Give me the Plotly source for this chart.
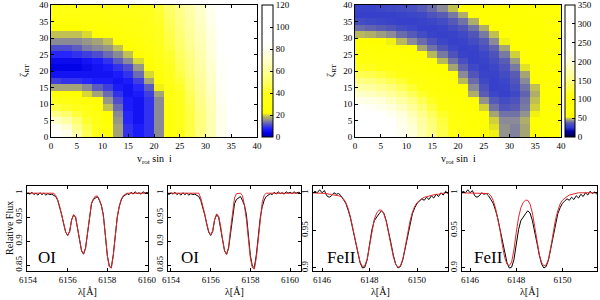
import plotly.graph_objects as go

FONT = "Liberation Serif"

# ---------------- heat-map data ----------------
v_centers = [1, 3, 5, 7, 9, 11, 13, 15, 17, 19, 21, 23, 25, 27, 29, 31, 33, 35, 37, 39]
zeta_centers = [1, 3, 5, 7, 9, 11, 13, 15, 17, 19, 21, 23, 25, 27, 29, 31, 33, 35, 37, 39]
map_ticks = [0, 5, 10, 15, 20, 25, 30, 35, 40]

chi_left = [
    [92, 78, 62, 48, 36, 25, 17, 9, 7, 9, 15, 28, 36, 45, 55, 65, 78, 90, 102, 112],
    [84, 72, 58, 46, 35, 25, 17, 9, 7, 9, 15, 28, 36, 45, 55, 65, 78, 90, 102, 112],
    [70, 62, 52, 42, 33, 24, 16, 8, 6, 9, 15, 28, 36, 45, 55, 65, 78, 90, 102, 112],
    [57, 51, 44, 37, 30, 22, 15, 8, 6, 9, 15, 28, 36, 45, 55, 65, 78, 90, 102, 112],
    [45, 41, 36, 31, 26, 19, 13, 7, 6, 9, 15, 29, 37, 46, 56, 66, 79, 91, 103, 113],
    [35, 32, 29, 26, 22, 16, 11, 7, 6, 9, 15, 30, 38, 47, 57, 67, 80, 92, 104, 114],
    [26, 25, 23, 20, 17, 13, 9, 6, 7, 10, 17, 31, 39, 48, 58, 68, 81, 93, 105, 115],
    [17, 17, 17, 15, 12, 10, 7, 6, 8, 12, 21, 33, 41, 50, 59, 69, 82, 94, 106, 116],
    [10, 9, 9, 8, 7, 7, 6, 7, 10, 17, 25, 35, 43, 51, 60, 70, 83, 95, 107, 117],
    [6, 6, 6, 6, 6, 6, 7, 9, 13, 20, 28, 37, 45, 53, 61, 71, 84, 96, 108, 118],
    [4, 4, 4, 5, 6, 7, 9, 11, 16, 22, 31, 39, 47, 54, 62, 72, 85, 97, 109, 119],
    [5, 5, 5, 6, 7, 9, 12, 15, 20, 25, 33, 41, 48, 55, 63, 73, 86, 98, 110, 120],
    [8, 8, 9, 10, 11, 13, 15, 19, 23, 28, 35, 42, 49, 56, 64, 74, 87, 99, 111, 120],
    [11, 11, 12, 14, 15, 16, 19, 22, 26, 30, 37, 44, 51, 58, 65, 75, 87, 99, 111, 121],
    [15, 15, 15, 16, 17, 19, 22, 25, 28, 32, 38, 45, 52, 59, 66, 75, 88, 100, 112, 121],
    [19, 19, 19, 20, 22, 24, 26, 28, 30, 34, 39, 46, 53, 60, 67, 76, 88, 100, 112, 122],
    [23, 23, 24, 25, 26, 27, 28, 30, 32, 35, 40, 47, 54, 61, 68, 77, 89, 101, 113, 122],
    [27, 27, 27, 28, 28, 29, 30, 31, 33, 36, 41, 48, 55, 62, 69, 78, 90, 102, 114, 123],
    [30, 30, 30, 31, 31, 32, 33, 34, 35, 37, 42, 49, 56, 63, 70, 79, 91, 103, 115, 124],
    [32, 32, 32, 33, 33, 34, 35, 36, 37, 38, 43, 50, 57, 64, 71, 80, 92, 104, 116, 125],
]

chi_right = [
    [335, 307, 278, 251, 224, 199, 175, 152, 131, 111, 93, 77, 63, 52, 44, 42, 46, 53, 64, 70],
    [315, 296, 272, 246, 221, 196, 172, 150, 129, 110, 92, 76, 62, 51, 44, 42, 46, 53, 64, 70],
    [291, 279, 259, 237, 213, 190, 168, 146, 126, 107, 90, 75, 61, 50, 43, 43, 47, 54, 65, 70],
    [265, 256, 240, 222, 201, 179, 158, 138, 119, 101, 84, 69, 56, 46, 40, 40, 44, 52, 64, 68],
    [239, 232, 220, 203, 185, 166, 146, 127, 109, 92, 76, 62, 50, 40, 35, 37, 41, 50, 60, 64],
    [215, 209, 199, 185, 169, 152, 134, 116, 99, 83, 69, 55, 44, 36, 32, 34, 40, 49, 58, 62],
    [190, 186, 177, 165, 151, 136, 120, 104, 88, 73, 60, 47, 37, 30, 28, 31, 38, 47, 55, 59],
    [170, 167, 159, 149, 137, 123, 109, 94, 80, 67, 54, 43, 34, 28, 29, 33, 40, 49, 56, 60],
    [152, 148, 142, 133, 123, 110, 98, 85, 72, 60, 48, 39, 31, 28, 30, 35, 43, 53, 57, 61],
    [134, 131, 125, 118, 108, 98, 87, 75, 64, 53, 43, 35, 29, 29, 32, 37, 46, 54, 58, 62],
    [116, 114, 109, 103, 95, 86, 76, 66, 56, 46, 38, 31, 28, 30, 34, 41, 51, 56, 59, 63],
    [100, 98, 94, 89, 82, 74, 65, 56, 48, 40, 33, 28, 29, 32, 37, 45, 54, 57, 61, 64],
    [85, 84, 80, 75, 70, 63, 55, 48, 41, 34, 29, 28, 30, 34, 41, 50, 55, 59, 62, 66],
    [72, 70, 67, 63, 58, 53, 46, 40, 35, 30, 28, 29, 33, 38, 46, 54, 57, 61, 64, 67],
    [59, 58, 56, 52, 48, 43, 39, 34, 30, 28, 29, 32, 36, 43, 52, 56, 59, 62, 66, 69],
    [48, 47, 45, 43, 39, 36, 32, 29, 28, 29, 31, 35, 41, 49, 55, 58, 61, 64, 67, 71],
    [39, 38, 37, 35, 32, 30, 28, 28, 29, 32, 35, 40, 47, 54, 57, 60, 63, 66, 69, 73],
    [32, 31, 30, 29, 28, 28, 29, 30, 32, 36, 40, 47, 54, 56, 59, 62, 65, 68, 71, 74],
    [28, 28, 28, 28, 29, 30, 31, 34, 37, 41, 47, 54, 56, 59, 61, 64, 67, 70, 73, 76],
    [29, 29, 30, 31, 32, 33, 36, 39, 43, 49, 54, 56, 59, 61, 64, 67, 69, 72, 75, 78],
]

cbar_left_ticks = [0, 20, 40, 60, 80, 100, 120]
cbar_right_ticks = [0, 50, 100, 150, 200, 250, 300, 350]

# ---------------- spectra ----------------
wl_OI = [6153.6, 6153.7, 6153.8, 6153.9, 6154.0, 6154.1, 6154.2, 6154.3, 6154.4, 6154.5,
         6154.6, 6154.7, 6154.8, 6154.9, 6155.0, 6155.1, 6155.2, 6155.3, 6155.4, 6155.5,
         6155.6, 6155.7, 6155.8, 6155.9, 6156.0, 6156.1, 6156.2, 6156.3, 6156.4, 6156.5,
         6156.6, 6156.7, 6156.8, 6156.9, 6157.0, 6157.1, 6157.2, 6157.3, 6157.4, 6157.5,
         6157.6, 6157.7, 6157.8, 6157.9, 6158.0, 6158.1, 6158.2, 6158.3, 6158.4, 6158.5,
         6158.6, 6158.7, 6158.8, 6158.9, 6159.0, 6159.1, 6159.2, 6159.3, 6159.4, 6159.5,
         6159.6, 6159.7, 6159.8, 6159.9, 6160.0, 6160.1, 6160.2, 6160.3, 6160.4, 6160.5]
obs_OI = [1.000, 0.998, 1.001, 0.997, 1.001, 0.998, 1.002, 0.997, 1.000, 0.996,
          1.001, 0.997, 1.000, 0.996, 0.999, 0.997, 0.998, 0.996, 0.993, 0.985,
          0.972, 0.955, 0.936, 0.919, 0.912, 0.920, 0.945, 0.955, 0.950, 0.930,
          0.903, 0.880, 0.873, 0.885, 0.920, 0.955, 0.978, 0.987, 0.991, 0.993,
          0.985, 0.975, 0.955, 0.915, 0.870, 0.848, 0.845, 0.872, 0.915, 0.950,
          0.972, 0.986, 0.993, 0.996, 0.999, 0.997, 1.002, 0.998, 1.003, 0.999,
          1.001, 0.998, 1.003, 1.000, 1.002, 0.999, 1.003, 1.000, 1.002, 1.001]
fit_OI_a = [1.000, 1.000, 1.000, 1.000, 1.000, 1.000, 1.000, 1.000, 1.000, 1.000,
            1.000, 1.000, 1.000, 1.000, 1.000, 1.000, 1.000, 1.000, 0.995, 0.986,
            0.972, 0.955, 0.936, 0.919, 0.912, 0.921, 0.944, 0.955, 0.950, 0.930,
            0.903, 0.881, 0.874, 0.886, 0.921, 0.956, 0.979, 0.989, 0.994, 0.994,
            0.987, 0.974, 0.952, 0.913, 0.870, 0.847, 0.844, 0.870, 0.913, 0.950,
            0.973, 0.987, 0.995, 0.998, 1.000, 1.000, 1.000, 1.000, 1.000, 1.000,
            1.000, 1.000, 1.000, 1.000, 1.000, 1.000, 1.000, 1.000, 1.000, 1.000]
fit_OI_b = [1.000, 1.000, 1.000, 1.000, 1.000, 1.000, 1.000, 1.000, 1.000, 1.000,
            1.000, 1.000, 1.000, 1.000, 1.000, 1.000, 1.000, 1.000, 1.000, 0.990,
            0.975, 0.957, 0.937, 0.920, 0.913, 0.922, 0.945, 0.957, 0.952, 0.932,
            0.903, 0.880, 0.872, 0.887, 0.925, 0.963, 0.990, 0.999, 1.000, 1.000,
            0.995, 0.975, 0.945, 0.905, 0.865, 0.845, 0.842, 0.866, 0.910, 0.952,
            0.982, 0.996, 1.000, 1.000, 1.000, 1.000, 1.000, 1.000, 1.000, 1.000,
            1.000, 1.000, 1.000, 1.000, 1.000, 1.000, 1.000, 1.000, 1.000, 1.000]

wl_Fe = [6145.5, 6145.6, 6145.7, 6145.8, 6145.9, 6146.0, 6146.1, 6146.2, 6146.3, 6146.4,
         6146.5, 6146.6, 6146.7, 6146.8, 6146.9, 6147.0, 6147.1, 6147.2, 6147.3, 6147.4,
         6147.5, 6147.6, 6147.7, 6147.8, 6147.9, 6148.0, 6148.1, 6148.2, 6148.3, 6148.4,
         6148.5, 6148.6, 6148.7, 6148.8, 6148.9, 6149.0, 6149.1, 6149.2, 6149.3, 6149.4,
         6149.5, 6149.6, 6149.7, 6149.8, 6149.9, 6150.0, 6150.1, 6150.2, 6150.3, 6150.4,
         6150.5, 6150.6, 6150.7, 6150.8, 6150.9, 6151.0, 6151.1, 6151.2, 6151.3, 6151.4,
         6151.5, 6151.6, 6151.7]
obs_Fe = [1.000, 0.999, 1.002, 1.000, 1.004, 1.000, 1.003, 0.996, 0.994, 0.996,
          1.000, 0.998, 0.999, 0.996, 0.991, 0.986, 0.977, 0.966, 0.951, 0.935,
          0.920, 0.907, 0.900, 0.901, 0.911, 0.930, 0.951, 0.963, 0.968, 0.972,
          0.976, 0.973, 0.963, 0.950, 0.933, 0.917, 0.905, 0.900, 0.902, 0.911,
          0.927, 0.945, 0.961, 0.972, 0.980, 0.986, 0.989, 0.992, 0.990, 0.994,
          0.991, 0.996, 0.993, 0.998, 0.995, 1.000, 0.997, 1.002, 0.999, 1.001,
          0.998, 1.001, 1.000]
fit_Fe_a = [1.000, 1.000, 1.000, 1.000, 1.000, 0.999, 0.999, 0.999, 0.998, 0.998,
            0.997, 0.997, 0.996, 0.995, 0.992, 0.987, 0.979, 0.967, 0.952, 0.935,
            0.920, 0.908, 0.902, 0.903, 0.912, 0.930, 0.950, 0.965, 0.973, 0.977,
            0.977, 0.972, 0.962, 0.947, 0.930, 0.915, 0.905, 0.901, 0.903, 0.912,
            0.928, 0.946, 0.962, 0.974, 0.982, 0.987, 0.990, 0.992, 0.994, 0.995,
            0.996, 0.997, 0.997, 0.998, 0.998, 0.999, 0.999, 1.000, 1.000, 1.000,
            1.000, 1.000, 1.000]
fit_Fe_b = [1.000, 1.000, 1.000, 1.000, 1.000, 1.000, 1.000, 1.000, 1.000, 1.000,
            1.000, 1.000, 1.000, 0.999, 0.996, 0.990, 0.980, 0.967, 0.950, 0.930,
            0.914, 0.905, 0.903, 0.908, 0.924, 0.947, 0.967, 0.980, 0.987, 0.990,
            0.990, 0.985, 0.973, 0.955, 0.935, 0.918, 0.907, 0.903, 0.904, 0.912,
            0.928, 0.947, 0.964, 0.976, 0.985, 0.990, 0.993, 0.995, 0.997, 0.998,
            0.999, 1.000, 1.000, 1.000, 1.000, 1.000, 1.000, 1.000, 1.000, 1.000,
            1.000, 1.000, 1.000]

oi_xticks = [6154, 6156, 6158, 6160]
fe_xticks = [6146, 6148, 6150]
oi_yticks = [0.85, 0.9, 0.95, 1]
oi_yticktext = ["0.85", "0.9", "0.95", "1"]
fe_yticks = [0.9, 0.95, 1]
fe_yticktext = ["0.9", "0.95", "1"]

# ---------------- colour scales ----------------
cs_left = [
    [0.000, "#0000a0"], [0.030, "#0000e6"], [0.065, "#2222ff"], [0.095, "#5252c8"],
    [0.125, "#8a8a96"], [0.155, "#b8b860"], [0.180, "#ffff00"], [0.333, "#ffff20"],
    [0.417, "#ffff66"], [0.500, "#ffff9a"], [0.583, "#ffffc8"], [0.667, "#fffff2"],
    [0.750, "#ffffff"], [1.000, "#ffffff"],
]
cs_right = [
    [0.000, "#000040"], [0.043, "#0000a0"], [0.071, "#3038d0"], [0.086, "#3c46c8"],
    [0.106, "#5a5cb4"], [0.123, "#8a8a98"], [0.140, "#c0c050"], [0.151, "#ffff00"],
    [0.314, "#ffff10"], [0.429, "#ffff80"], [0.571, "#ffffdc"], [0.686, "#ffffff"],
    [1.000, "#ffffff"],
]

W, H = 600, 300


def px(x):
    return x / W


def py(y):
    return 1 - y / H


tickfont = dict(family=FONT, size=9, color="black")

fig = go.Figure()

map_top, map_bot = 5, 137
cb_y = (py(map_top) + py(map_bot)) / 2
cb_len = (map_bot - map_top) / H

fig.add_trace(go.Heatmap(
    x=v_centers, y=zeta_centers, z=chi_left, zmin=0, zmax=120,
    colorscale=cs_left, xaxis="x", yaxis="y",
    colorbar=dict(x=px(262), xanchor="left", y=cb_y, yanchor="middle",
                  len=cb_len, lenmode="fraction", thickness=11, thicknessmode="pixels",
                  xpad=0, ypad=0, outlinewidth=1, outlinecolor="black",
                  tickvals=cbar_left_ticks, ticks="inside", ticklen=3, tickcolor="black",
                  tickfont=tickfont),
))
fig.add_trace(go.Heatmap(
    x=v_centers, y=zeta_centers, z=chi_right, zmin=0, zmax=350,
    colorscale=cs_right, xaxis="x2", yaxis="y2",
    colorbar=dict(x=px(565), xanchor="left", y=cb_y, yanchor="middle",
                  len=cb_len, lenmode="fraction", thickness=10, thicknessmode="pixels",
                  xpad=0, ypad=0, outlinewidth=1, outlinecolor="black",
                  tickvals=cbar_right_ticks, ticks="inside", ticklen=3, tickcolor="black",
                  tickfont=tickfont),
))

panels = [
    ("x3", "y3", wl_OI, obs_OI, fit_OI_a),
    ("x4", "y4", wl_OI, obs_OI, fit_OI_b),
    ("x5", "y5", wl_Fe, obs_Fe, fit_Fe_a),
    ("x6", "y6", wl_Fe, obs_Fe, fit_Fe_b),
]
for xa, ya, wl, obs, fit in panels:
    fig.add_trace(go.Scatter(x=wl, y=obs, mode="lines", xaxis=xa, yaxis=ya,
                             line=dict(color="black", width=1), showlegend=False))
    fig.add_trace(go.Scatter(x=wl, y=fit, mode="lines", xaxis=xa, yaxis=ya,
                             line=dict(color="#e0282a", width=1), showlegend=False))


def axis(domain, rng, tickvals, anchor, ticktext=None, angle=None):
    d = dict(domain=domain, range=rng, tickvals=tickvals, anchor=anchor,
             ticks="inside", ticklen=3, tickwidth=1, tickcolor="black",
             showline=True, linecolor="black", linewidth=1, mirror="ticks",
             showgrid=False, zeroline=False, tickfont=tickfont, automargin=False)
    if ticktext is not None:
        d["ticktext"] = ticktext
    if angle is not None:
        d["tickangle"] = angle
    return d


map_y = [py(map_bot), py(map_top)]
sp_y = [py(271), py(186)]

fig.update_layout(
    width=W, height=H,
    margin=dict(l=0, r=0, t=0, b=0, pad=0, autoexpand=False),
    paper_bgcolor="white", plot_bgcolor="white", showlegend=False,
    font=dict(family=FONT, color="black"),
    xaxis=axis([px(51), px(257)], [0, 40], map_ticks, "y"),
    yaxis=axis(map_y, [0, 40], map_ticks, "x"),
    xaxis2=axis([px(355), px(561)], [0, 40], map_ticks, "y2"),
    yaxis2=axis(map_y, [0, 40], map_ticks, "x2"),
    xaxis3=axis([px(27), px(148)], [6153.95, 6160.05], oi_xticks, "y3"),
    yaxis3=axis(sp_y, [0.838, 1.015], oi_yticks, "x3", oi_yticktext, -90),
    xaxis4=axis([px(168), px(301)], [6153.85, 6160.55], oi_xticks, "y4"),
    yaxis4=axis(sp_y, [0.838, 1.015], oi_yticks, "x4", oi_yticktext, -90),
    xaxis5=axis([px(313), px(448)], [6145.62, 6151.3], fe_xticks, "y5"),
    yaxis5=axis(sp_y, [0.896, 1.009], fe_yticks, "x5", fe_yticktext, -90),
    xaxis6=axis([px(462), px(597)], [6145.65, 6151.5], fe_xticks, "y6"),
    yaxis6=axis(sp_y, [0.896, 1.009], fe_yticks, "x6", fe_yticktext, -90),
)

ann = []


def add_text(x, y, text, size=10, angle=0):
    ann.append(dict(x=px(x), y=py(y), xref="paper", yref="paper", text=text,
                    showarrow=False, textangle=angle, xanchor="center", yanchor="middle",
                    font=dict(family=FONT, size=size, color="black")))


add_text(24, 71, "ζ<sub>RT</sub>", 10, -90)
add_text(331, 71, "ζ<sub>RT</sub>", 10, -90)
add_text(154, 159, "v<sub>rot</sub> sin  i", 10)
add_text(458, 159, "v<sub>rot</sub> sin  i", 10)
add_text(9, 228, "Relative Flux", 10, -90)
for cx in (87.5, 234.5, 380.5, 529.5):
    add_text(cx, 291, "λ[Å]", 10)
add_text(47, 257, "OI", 17)
add_text(190, 257, "OI", 17)
add_text(342, 257, "FeII", 17)
add_text(489, 257, "FeII", 17)

fig.update_layout(annotations=ann)
fig.write_html("out.html", config={"displayModeBar": False},
               post_script="document.body.style.margin='0px';document.body.style.padding='0px';")
